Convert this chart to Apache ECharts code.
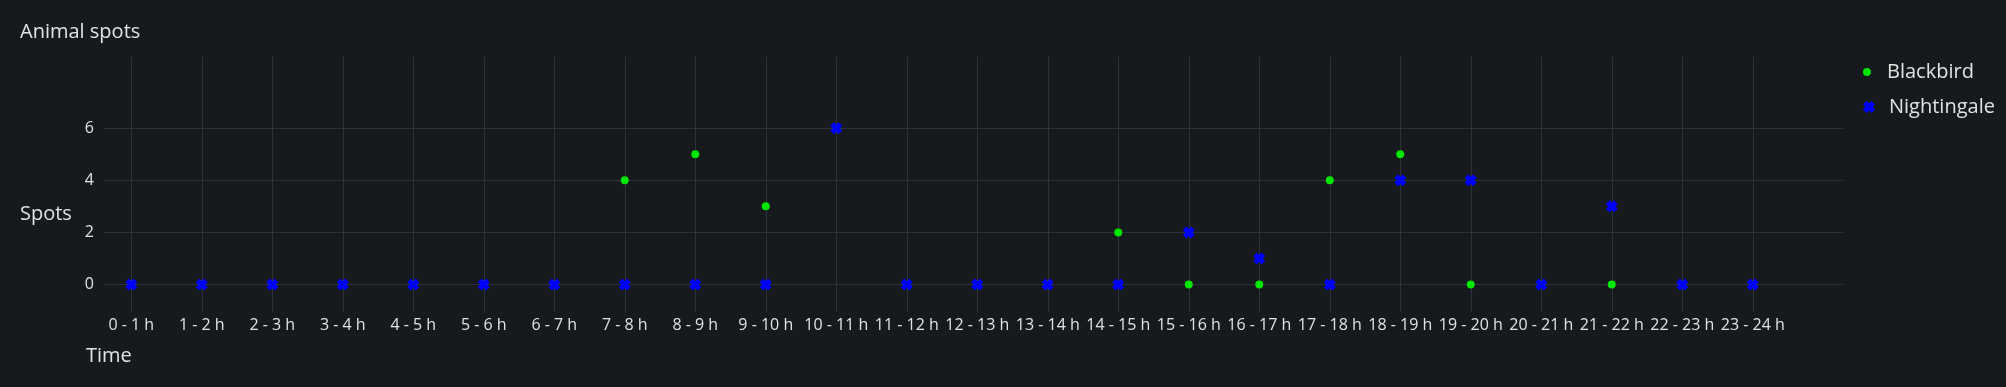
<!DOCTYPE html>
<html>
<head>
<meta charset="utf-8">
<script src="https://cdn.jsdelivr.net/npm/echarts@6/dist/echarts.min.js"></script>
<style>
html,body{margin:0;padding:0;background:#171a1d;}
#chart{width:2006px;height:387px;}
</style>
</head>
<body>
<div id="chart"></div>
<script>
var categories = ['0 - 1 h','1 - 2 h','2 - 3 h','3 - 4 h','4 - 5 h','5 - 6 h','6 - 7 h','7 - 8 h','8 - 9 h','9 - 10 h','10 - 11 h','11 - 12 h','12 - 13 h','13 - 14 h','14 - 15 h','15 - 16 h','16 - 17 h','17 - 18 h','18 - 19 h','19 - 20 h','20 - 21 h','21 - 22 h','22 - 23 h','23 - 24 h'];
var blackbird   = [0,0,0,0,0,0,0,4,5,3,6,0,0,0,2,0,0,4,5,0,0,0,0,0];
var nightingale = [0,0,0,0,0,0,0,0,0,0,6,0,0,0,0,2,1,0,4,4,0,3,0,0];
var yTicks = [0,2,4,6];

var catIdx = categories.map(function(c,i){return i;});
function pairs(vals){ return vals.map(function(v,i){return [i,v];}); }

var font = '"Open Sans", "Noto Sans", sans-serif';
var textColor = '#e2e2e2';
var gridColor = '#2b323d';
var xPath = 'path://M0,3 L3,0 L5,2 L7,0 L10,3 L8,5 L10,7 L7,10 L5,8 L3,10 L0,7 L2,5 Z';

var chart = echarts.init(document.getElementById('chart'), null, {renderer:'canvas'});
chart.setOption({
  backgroundColor: '#171a1d',
  animation: false,
  textStyle: {fontFamily: font},
  title: [
    {text: 'Animal spots', left: 20, top: 22, padding: 0, textStyle: {color: textColor, fontSize: 20, fontWeight: 'normal', fontFamily: font}},
    {text: 'Spots', left: 20, top: 204, padding: 0, textStyle: {color: textColor, fontSize: 20, fontWeight: 'normal', fontFamily: font}},
    {text: 'Time', left: 86, top: 346, padding: 0, textStyle: {color: textColor, fontSize: 20, fontWeight: 'normal', fontFamily: font}}
  ],
  legend: [
    {data: [{name: 'Blackbird', icon: 'circle'}], orient: 'vertical', left: 1863, top: 62, padding: 0,
     itemWidth: 30, itemHeight: 8, textStyle: {color: textColor, fontSize: 20, fontFamily: font}},
    {data: [{name: 'Nightingale', icon: xPath}], orient: 'vertical', left: 1863, top: 97, padding: 0,
     itemWidth: 30, itemHeight: 12, textStyle: {color: textColor, fontSize: 20, fontFamily: font}}
  ],
  grid: {left: 104, right: 163, top: 57, bottom: 75, containLabel: false},
  xAxis: {
    type: 'value', min: -0.387, max: 24.28,
    axisLine: {show: false},
    axisTick: {show: false, customValues: catIdx},
    axisLabel: {customValues: catIdx, color: textColor, fontSize: 16, margin: 5, fontFamily: font,
      formatter: function(v){ return categories[Math.round(v)] || ''; }},
    splitLine: {show: true, lineStyle: {color: gridColor, width: 1}}
  },
  yAxis: {
    type: 'value', min: -1.054, max: 8.73,
    axisLine: {show: false},
    axisTick: {show: false, customValues: yTicks},
    axisLabel: {customValues: yTicks, color: textColor, fontSize: 16, margin: 10, fontFamily: font},
    splitLine: {show: true, lineStyle: {color: gridColor, width: 1}}
  },
  series: [
    {name: 'Blackbird', type: 'scatter', symbol: 'circle', symbolSize: 8,
     itemStyle: {color: '#00e600', opacity: 1}, data: pairs(blackbird)},
    {name: 'Nightingale', type: 'scatter', symbol: xPath, symbolSize: 12,
     itemStyle: {color: '#0000ff', opacity: 1}, data: pairs(nightingale)}
  ]
});
</script>
</body>
</html>
